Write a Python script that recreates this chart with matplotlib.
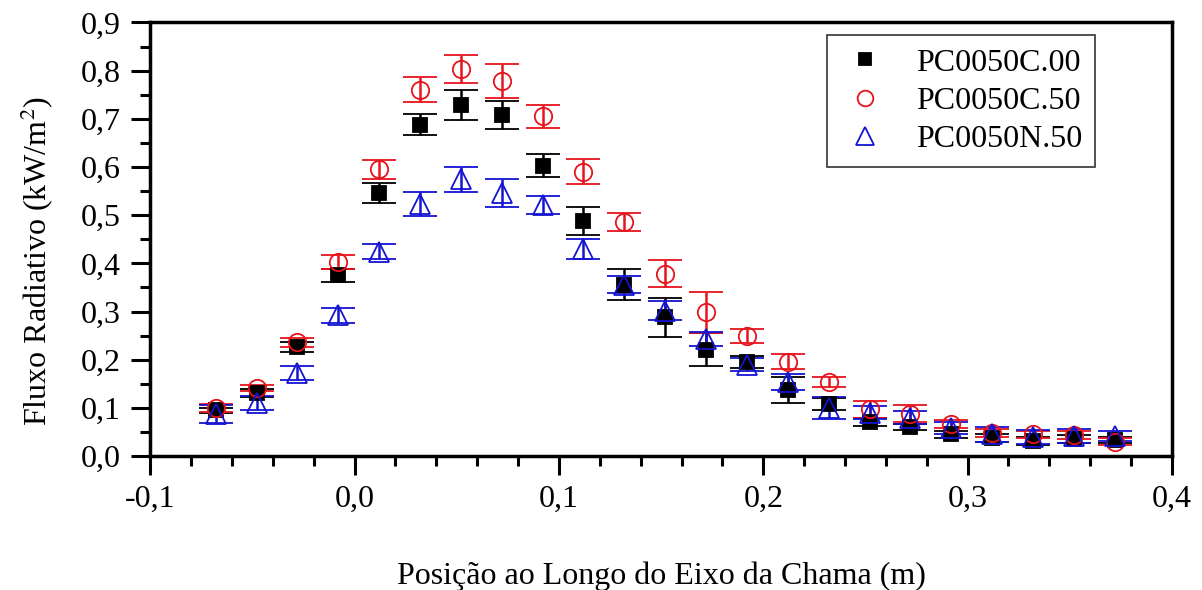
import matplotlib
matplotlib.use('Agg')
import matplotlib.pyplot as plt
from matplotlib.ticker import MultipleLocator, FuncFormatter
from matplotlib.lines import Line2D

plt.rcParams['font.family'] = ['Liberation Serif', 'DejaVu Serif']
plt.rcParams['mathtext.fontset'] = 'stix'
plt.rcParams['axes.unicode_minus'] = False

# posicoes ao longo do eixo da chama (m)
posicao = [-0.068, -0.048, -0.028, -0.008, 0.012, 0.032, 0.052, 0.072, 0.092,
           0.112, 0.132, 0.152, 0.172, 0.192, 0.212, 0.232, 0.252, 0.272,
           0.292, 0.312, 0.332, 0.352, 0.372]

# PC0050C.00
fluxo_c00 = [0.095, 0.131, 0.226, 0.375, 0.546, 0.688, 0.728, 0.708, 0.603,
             0.487, 0.356, 0.288, 0.221, 0.195, 0.138, 0.108, 0.070, 0.060,
             0.045, 0.037, 0.032, 0.036, 0.034]
erro_c00 = [0.005, 0.008, 0.010, 0.014, 0.020, 0.022, 0.031, 0.029, 0.024,
            0.029, 0.032, 0.040, 0.034, 0.012, 0.027, 0.013, 0.008, 0.006,
            0.008, 0.008, 0.008, 0.008, 0.006]

# PC0050C.50
fluxo_c50 = [0.100, 0.142, 0.236, 0.403, 0.595, 0.760, 0.804, 0.779, 0.705,
             0.590, 0.486, 0.378, 0.298, 0.249, 0.196, 0.154, 0.097, 0.088,
             0.066, 0.048, 0.045, 0.044, 0.030]
erro_c50 = [0.008, 0.006, 0.009, 0.015, 0.020, 0.026, 0.029, 0.035, 0.024,
            0.026, 0.018, 0.028, 0.042, 0.014, 0.016, 0.011, 0.017, 0.017,
            0.008, 0.008, 0.008, 0.008, 0.007]

# PC0050N.50
fluxo_n50 = [0.087, 0.110, 0.172, 0.292, 0.424, 0.523, 0.574, 0.546, 0.521,
             0.430, 0.356, 0.302, 0.243, 0.190, 0.154, 0.100, 0.090, 0.080,
             0.058, 0.045, 0.040, 0.042, 0.042]
erro_n50 = [0.018, 0.015, 0.015, 0.015, 0.016, 0.025, 0.025, 0.030, 0.018,
            0.021, 0.018, 0.019, 0.014, 0.014, 0.016, 0.023, 0.013, 0.013,
            0.012, 0.015, 0.015, 0.015, 0.010]

series = [
    ('PC0050C.00', fluxo_c00, erro_c00, 's', 'black', 'black', 9.5),
    ('PC0050C.50', fluxo_c50, erro_c50, 'o', '#e8141c', 'none', 12.5),
    ('PC0050N.50', fluxo_n50, erro_n50, '^', '#1414d2', 'none', 14),
]

fig = plt.figure(figsize=(12.02, 5.90), dpi=100)
ax = fig.add_axes([0.125, 0.227, 0.850, 0.735])

handles = []
for nome, y, err, mk, cor, face, ms in series:
    ax.errorbar(posicao, y, yerr=err, fmt=mk, color=cor, mfc=face, mec=cor,
                ms=ms, mew=1.3, capsize=12, elinewidth=1.8, capthick=1.8,
                linestyle='none')
    handles.append(Line2D([], [], marker=mk, linestyle='none', color=cor,
                          mfc=face, mec=cor, ms=ms * 0.9, mew=1.3, label=nome))

ax.set_xlim(-0.1, 0.4)
ax.set_ylim(0, 0.9)
ax.xaxis.set_major_locator(MultipleLocator(0.1))
ax.xaxis.set_minor_locator(MultipleLocator(0.02))
ax.yaxis.set_major_locator(MultipleLocator(0.1))
ax.yaxis.set_minor_locator(MultipleLocator(0.05))
virgula = FuncFormatter(lambda v, p: f'{v:.1f}'.replace('.', ','))
ax.xaxis.set_major_formatter(virgula)
ax.yaxis.set_major_formatter(virgula)

ax.tick_params(which='major', direction='out', length=14, width=2.2,
               labelsize=23, pad=7, top=False, right=False)
ax.tick_params(which='minor', direction='out', length=7, width=2.2,
               top=False, right=False)
for s in ax.spines.values():
    s.set_linewidth(2.5)

ax.set_xlabel('Posição ao Longo do Eixo da Chama (m)', fontsize=23, labelpad=34)
ax.set_ylabel('Fluxo Radiativo (kW/m$^2$)', fontsize=23)
ax.yaxis.set_label_coords(-0.092, 0.45)

leg = ax.legend(handles=handles, loc='upper right', fontsize=23, frameon=True,
                fancybox=False, edgecolor='black', borderpad=0.4,
                handletextpad=0.8, handlelength=1.6, labelspacing=0.28,
                borderaxespad=0, bbox_to_anchor=(0.925, 0.970))
leg.get_frame().set_linewidth(1.2)

fig.savefig('out.png', dpi=100)
